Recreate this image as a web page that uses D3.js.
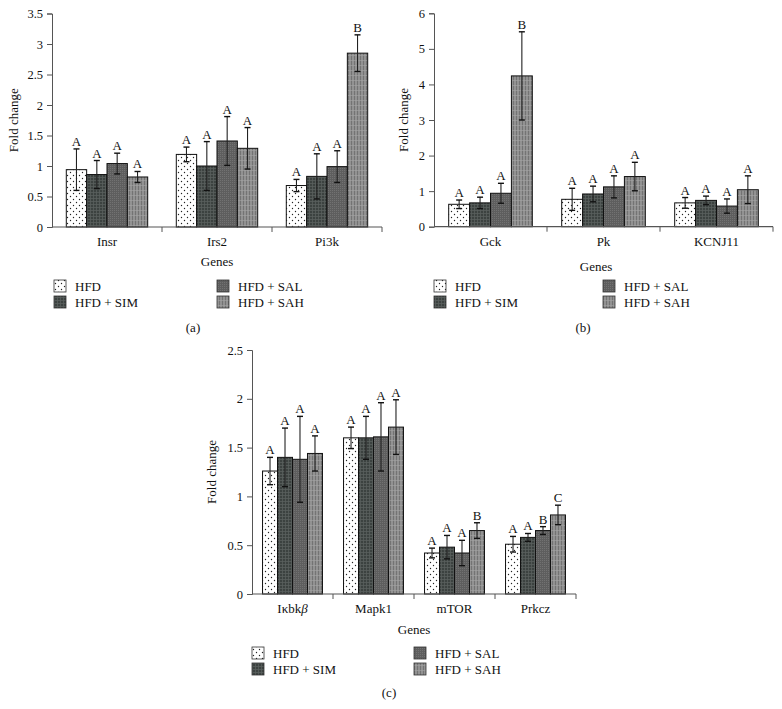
<!DOCTYPE html>
<html>
<head>
<meta charset="utf-8">
<script src="https://cdn.jsdelivr.net/npm/d3@7"></script>
<style>
	body { margin: 0; background: #fff; }
	svg text { font-family: 'Liberation Serif', 'DejaVu Serif', serif; fill: #111; }
</style>
</head>
<body>
<svg id="chart" width="782" height="709"></svg>
<script>
const SERIES = ['HFD', 'HFD + SIM', 'HFD + SAL', 'HFD + SAH'];

// panel (a)
const genesA = ['Insr', 'Irs2', 'Pi3k'];
const meanA = [
	[0.94, 1.19, 0.68],
	[0.86, 1.0, 0.83],
	[1.04, 1.41, 0.99],
	[0.82, 1.29, 2.85]
];
const sdA = [
	[0.34, 0.12, 0.1],
	[0.23, 0.4, 0.37],
	[0.17, 0.4, 0.26],
	[0.09, 0.34, 0.3]
];
const lettersA = [
	['A', 'A', 'A'],
	['A', 'A', 'A'],
	['A', 'A', 'A'],
	['A', 'A', 'B']
];
const ticksA = [0, 0.5, 1, 1.5, 2, 2.5, 3, 3.5];

// panel (b)
const genesB = ['Gck', 'Pk', 'KCNJ11'];
const meanB = [
	[0.63, 0.77, 0.67],
	[0.67, 0.92, 0.74],
	[0.94, 1.12, 0.58],
	[4.24, 1.41, 1.04]
];
const sdB = [
	[0.12, 0.31, 0.15],
	[0.16, 0.22, 0.12],
	[0.28, 0.31, 0.2],
	[1.24, 0.4, 0.39]
];
const lettersB = [
	['A', 'A', 'A'],
	['A', 'A', 'A'],
	['A', 'A', 'A'],
	['B', 'A', 'A']
];
const ticksB = [0, 1, 2, 3, 4, 5, 6];

// panel (c)
const genesC = ['Iκbkβ', 'Mapk1', 'mTOR', 'Prkcz'];
const meanC = [
	[1.26, 1.6, 0.42, 0.51],
	[1.4, 1.6, 0.48, 0.58],
	[1.38, 1.61, 0.42, 0.65],
	[1.44, 1.71, 0.65, 0.81]
];
const sdC = [
	[0.14, 0.11, 0.05, 0.08],
	[0.3, 0.22, 0.12, 0.04],
	[0.44, 0.35, 0.13, 0.04],
	[0.18, 0.28, 0.08, 0.1]
];
const lettersC = [
	['A', 'A', 'A', 'A'],
	['A', 'A', 'A', 'A'],
	['A', 'A', 'A', 'B'],
	['A', 'A', 'B', 'C']
];
const ticksC = [0, 0.5, 1, 1.5, 2, 2.5];

const svg = d3.select('#chart');
const defs = svg.append('defs');

// fill patterns, one per treatment
function makePatterns() {
	const p0 = defs.append('pattern').attr('id', 'pat0').attr('patternUnits', 'userSpaceOnUse')
		.attr('width', 6).attr('height', 6);
	p0.append('rect').attr('width', 6).attr('height', 6).attr('fill', '#fff');
	p0.append('circle').attr('cx', 1.5).attr('cy', 1.5).attr('r', 0.7).attr('fill', '#222');
	p0.append('circle').attr('cx', 4.5).attr('cy', 4.5).attr('r', 0.7).attr('fill', '#222');

	const p1 = defs.append('pattern').attr('id', 'pat1').attr('patternUnits', 'userSpaceOnUse')
		.attr('width', 3).attr('height', 3);
	p1.append('rect').attr('width', 3).attr('height', 3).attr('fill', '#3c4240');
	p1.append('path').attr('d', 'M0,0.5H3M0.5,0V3').attr('stroke', '#59605d').attr('stroke-width', 0.8);

	const p2 = defs.append('pattern').attr('id', 'pat2').attr('patternUnits', 'userSpaceOnUse')
		.attr('width', 2).attr('height', 2);
	p2.append('rect').attr('width', 2).attr('height', 2).attr('fill', '#5e5e5e');
	p2.append('rect').attr('x', 0).attr('y', 0).attr('width', 1).attr('height', 1).attr('fill', '#727272');

	const p3 = defs.append('pattern').attr('id', 'pat3').attr('patternUnits', 'userSpaceOnUse')
		.attr('width', 3).attr('height', 5);
	p3.append('rect').attr('width', 3).attr('height', 5).attr('fill', '#929292');
	p3.append('path').attr('d', 'M0.5,0V5').attr('stroke', '#6f6f6f').attr('stroke-width', 0.9);
	p3.append('path').attr('d', 'M0,0.5H3').attr('stroke', '#a4a4a4').attr('stroke-width', 0.6);
}
makePatterns();

function drawPanel(cfg) {
	const { genes, means, sds, letters, ticks, x0, x1, yTop, yBot, max } = cfg;
	const g = svg.append('g');

	const x = d3.scaleBand().domain(genes).range([x0, x1]).paddingInner(0.26).paddingOuter(0.13);
	const xs = d3.scaleBand().domain(d3.range(SERIES.length)).range([0, x.bandwidth()]);
	const y = d3.scaleLinear().domain([0, max]).range([yBot, yTop]);

	// y axis
	const yAxis = g.append('g').attr('transform', `translate(${x0},0)`)
		.call(d3.axisLeft(y).tickValues(ticks).tickSize(5).tickPadding(4).tickFormat(d3.format('')));
	yAxis.select('.domain').attr('stroke', '#555');
	yAxis.selectAll('.tick line').attr('stroke', '#555');
	yAxis.selectAll('.tick text').attr('font-size', 12.5).attr('fill', '#111')
		.attr('font-family', "'Liberation Serif', serif");

	// bars
	SERIES.forEach((s, si) => {
		genes.forEach((gene, gi) => {
			const bx = x(gene) + xs(si);
			const v = means[si][gi];
			g.append('rect')
				.attr('x', bx).attr('y', y(v))
				.attr('width', xs.bandwidth()).attr('height', y(0) - y(v))
				.attr('fill', `url(#pat${si})`)
				.attr('stroke', '#111').attr('stroke-width', 1);
		});
	});

	// x axis with ticks on category edges
	const edges = genes.map(d => x(d) - x.step() * 0.13).concat([x1]);
	g.append('line').attr('x1', x0).attr('x2', x1).attr('y1', yBot).attr('y2', yBot)
		.attr('stroke', '#555').attr('stroke-width', 1.2);
	g.selectAll('.xt').data(edges.slice(1)).enter().append('line')
		.attr('x1', d => d).attr('x2', d => d).attr('y1', yBot).attr('y2', yBot + 5)
		.attr('stroke', '#555');

	// error bars and letters
	SERIES.forEach((s, si) => {
		genes.forEach((gene, gi) => {
			const cx = x(gene) + xs(si) + xs.bandwidth() / 2;
			const v = means[si][gi];
			const e = sds[si][gi];
			const hi = y(v + e);
			const lo = y(v - e);
			g.append('line').attr('x1', cx).attr('x2', cx).attr('y1', hi).attr('y2', lo)
				.attr('stroke', '#222').attr('stroke-width', 1.1);
			[hi, lo].forEach(yy => {
				g.append('line').attr('x1', cx - 3).attr('x2', cx + 3).attr('y1', yy).attr('y2', yy)
					.attr('stroke', '#111').attr('stroke-width', 1.4);
			});
			g.append('text').attr('x', cx).attr('y', hi - 3)
				.attr('text-anchor', 'middle').attr('font-size', 13)
				.text(letters[si][gi]);
		});
	});

	// category labels
	genes.forEach(gene => {
		const t = g.append('text').attr('x', x(gene) + x.bandwidth() / 2).attr('y', yBot + 19)
			.attr('text-anchor', 'middle').attr('font-size', 13);
		if (gene.endsWith('β')) {
			t.append('tspan').text(gene.slice(0, -1));
			t.append('tspan').attr('font-style', 'italic').text('β');
		} else t.text(gene);
	});

	// axis titles
	g.append('text').attr('transform', `translate(${cfg.ylabX},${(yTop + yBot) / 2}) rotate(-90)`)
		.attr('text-anchor', 'middle').attr('font-size', 13).text('Fold change');
	g.append('text').attr('x', cfg.genesX).attr('y', cfg.genesY)
		.attr('text-anchor', 'middle').attr('font-size', 13).text('Genes');

	// legend
	cfg.legendOrder.forEach((si, k) => {
		const col = Math.floor(k / 2);
		const row = k % 2;
		const lx = cfg.legX[col];
		const ly = cfg.legY[row];
		g.append('rect').attr('x', lx).attr('y', ly - 6).attr('width', 12).attr('height', 12)
			.attr('fill', `url(#pat${si})`).attr('stroke', '#333').attr('stroke-width', 0.8);
		g.append('text').attr('x', lx + 21).attr('y', ly + 4.5).attr('font-size', 13).text(SERIES[si]);
	});

	g.append('text').attr('x', cfg.capX).attr('y', cfg.capY)
		.attr('text-anchor', 'middle').attr('font-size', 13).text(cfg.caption);
}

drawPanel({
	genes: genesA, means: meanA, sds: sdA, letters: lettersA, ticks: ticksA, max: 3.5,
	x0: 52, x1: 382, yTop: 13.5, yBot: 227,
	ylabX: 18, genesX: 217, genesY: 266,
	legendOrder: [0, 1, 2, 3], legX: [54, 217], legY: [286, 302],
	capX: 193, capY: 332, caption: '(a)'
});

drawPanel({
	genes: genesB, means: meanB, sds: sdB, letters: lettersB, ticks: ticksB, max: 6,
	x0: 434, x1: 773, yTop: 13.3, yBot: 226.7,
	ylabX: 408, genesX: 596, genesY: 271,
	legendOrder: [0, 1, 2, 3], legX: [434, 603], legY: [286, 302],
	capX: 583, capY: 332, caption: '(b)'
});

drawPanel({
	genes: genesC, means: meanC, sds: sdC, letters: lettersC, ticks: ticksC, max: 2.5,
	x0: 252, x1: 576, yTop: 350, yBot: 594,
	ylabX: 216, genesX: 414, genesY: 634,
	legendOrder: [0, 1, 2, 3], legX: [252, 414], legY: [653, 669],
	capX: 389, capY: 697, caption: '(c)'
});
</script>
</body>
</html>
